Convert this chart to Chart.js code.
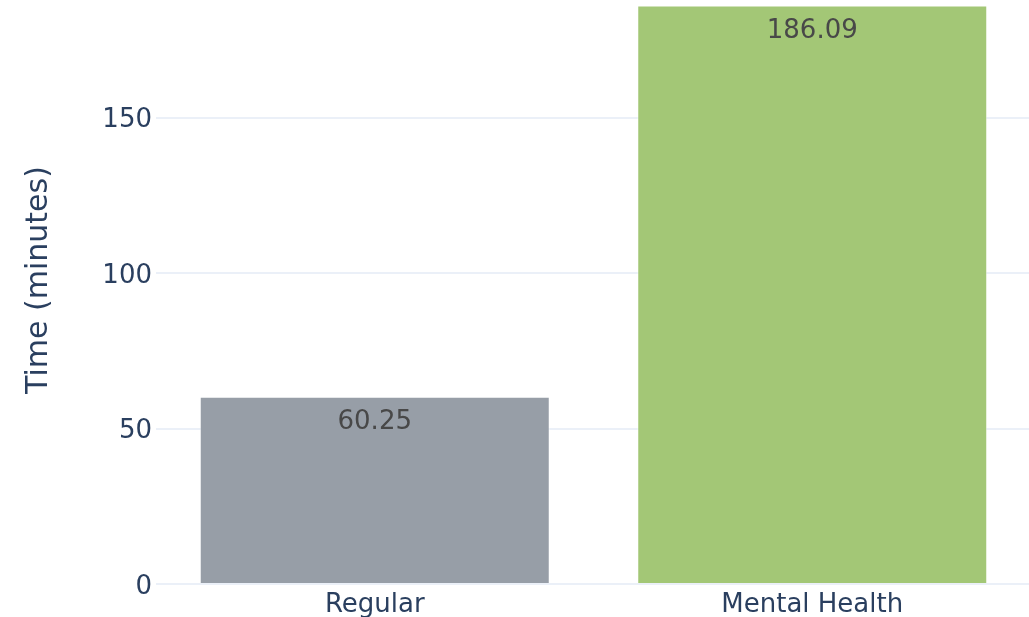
<!DOCTYPE html>
<html>
<head>
<meta charset="utf-8">
<script src="https://cdn.jsdelivr.net/npm/chart.js@4/dist/chart.umd.min.js"></script>
<style>
  html, body { margin: 0; padding: 0; background: #fff; overflow: hidden; }
  #wrap { position: absolute; left: 0; top: -24px; width: 1040px; height: 641px; }
</style>
</head>
<body>
<div id="wrap"><canvas id="bars"></canvas></div>
<script>
var categories = ['Regular', 'Mental Health'];
var minutes = [60.25, 186.09];
var barColors = ['#979ea7', '#a3c776'];
var yTicks = [0, 50, 100, 150];
var yMax = 195.6;

var FONT = 'Verdana, "DejaVu Sans", sans-serif';

// value text drawn inside the top of each bar
var barText = {
    id: 'barText',
    afterDatasetsDraw: function(chart) {
        var ctx = chart.ctx;
        var meta = chart.getDatasetMeta(0);
        ctx.save();
        ctx.font = '26px ' + FONT;
        ctx.fillStyle = '#484848';
        ctx.textAlign = 'center';
        ctx.textBaseline = 'top';
        meta.data.forEach(function(bar, i) {
            ctx.fillText(minutes[i].toFixed(2), bar.x, bar.y + 13);
        });
        ctx.restore();
    }
};

var ctx = document.getElementById('bars').getContext('2d');

var myChart = new Chart(ctx, {
    type: 'bar',
    data: {
        labels: categories,
        datasets: [{
            data: minutes,
            backgroundColor: barColors,
            borderColor: 'rgba(255,255,255,0.5)',
            borderWidth: 1,
            barPercentage: 0.8,
            categoryPercentage: 1
        }]
    },
    options: {
        responsive: true,
        maintainAspectRatio: false,
        animation: false,
        layout: { padding: { left: 0, right: 9, top: 0, bottom: 0 } },
        plugins: {
            legend: { display: false },
            tooltip: { enabled: false }
        },
        scales: {
            x: {
                grid: { display: false, drawTicks: false },
                border: { display: false },
                ticks: {
                    color: '#2a3f5f',
                    font: { family: FONT, size: 26 },
                    padding: 6
                },
                afterFit: function(scale) {
                    scale.height = 33;
                    scale.paddingLeft = 0;
                    scale.paddingRight = 0;
                }
            },
            y: {
                min: 0,
                max: yMax,
                grid: { color: '#ebf0f8', lineWidth: 2, drawTicks: false },
                border: { display: false },
                ticks: {
                    color: '#2a3f5f',
                    font: { family: FONT, size: 26 },
                    padding: 4,
                    labelOffset: 3
                },
                afterBuildTicks: function(scale) {
                    scale.ticks = yTicks.map(function(v) { return { value: v }; });
                },
                title: {
                    display: true,
                    text: 'Time (minutes)',
                    color: '#2a3f5f',
                    font: { family: FONT, size: 30 },
                    padding: { top: 21, bottom: 0 }
                },
                afterFit: function(scale) {
                    scale.width = 156;
                    scale.paddingTop = 0;
                    scale.paddingBottom = 0;
                }
            }
        }
    },
    plugins: [barText]
});
</script>
</body>
</html>
